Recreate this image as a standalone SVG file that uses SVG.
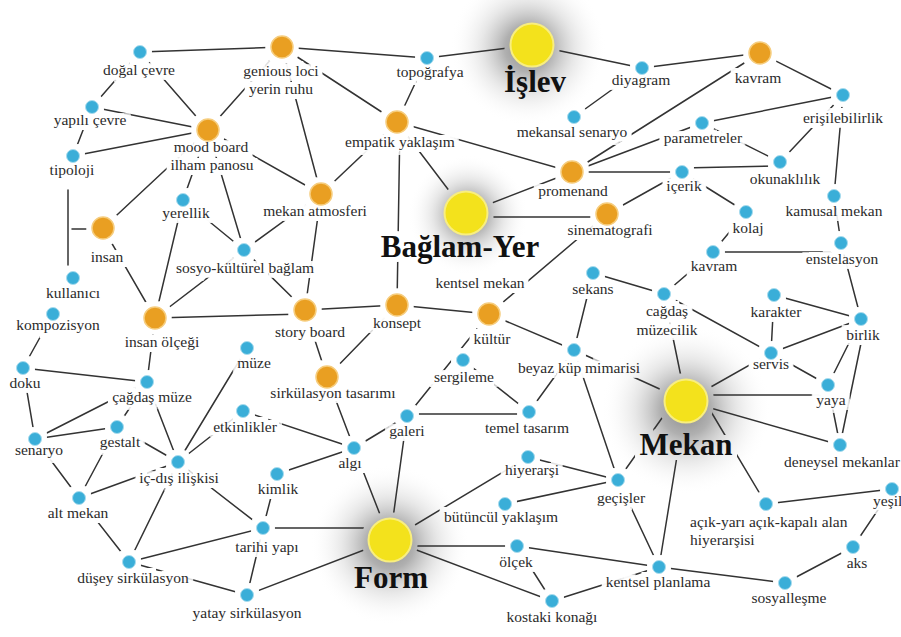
<svg xmlns="http://www.w3.org/2000/svg" width="901" height="637" viewBox="0 0 901 637">
<style>
.e{stroke:#333;stroke-width:1.5;fill:none;stroke-linecap:round}
.b{fill:#3aaed8;stroke:#a8dcee;stroke-width:1}
.o{fill:#e99f22;stroke:#f6cd7e;stroke-width:1.5}
.y{fill:#f3e21c;stroke:#f8ee80;stroke-width:2}
.l{font-family:Liberation Serif,Times New Roman,Times,serif;font-size:15.5px;fill:#2b2b2b;text-anchor:middle}
.s{text-anchor:start}
.big{font-family:Liberation Serif,Times New Roman,Times,serif;font-size:31px;font-weight:bold;fill:#111;text-anchor:middle}
</style>
<defs>
<radialGradient id="glow">
<stop offset="0" stop-color="#7a7a7a" stop-opacity="0.9"/>
<stop offset="0.3" stop-color="#8e8e8e" stop-opacity="0.7"/>
<stop offset="0.6" stop-color="#bdbdbd" stop-opacity="0.35"/>
<stop offset="1" stop-color="#ffffff" stop-opacity="0"/>
</radialGradient>
<filter id="blk" filterUnits="userSpaceOnUse" x="0" y="0" width="901" height="637">
<feMorphology in="SourceAlpha" operator="dilate" radius="5"/>
</filter>
<mask id="gap" maskUnits="userSpaceOnUse" x="0" y="0" width="901" height="637">
<rect width="901" height="637" fill="#fff"/>
<use href="#nodes" filter="url(#blk)"/>
</mask>
</defs>
<rect width="901" height="637" fill="#fff"/>
<g id="glows">
<circle cx="528" cy="48" r="78" fill="url(#glow)"/>
<circle cx="468" cy="215" r="60" fill="url(#glow)"/>
<circle cx="686" cy="410" r="85" fill="url(#glow)"/>
<circle cx="390" cy="545" r="80" fill="url(#glow)"/>
</g>
<g id="connectors" class="e" mask="url(#gap)">
<line x1="140" y1="52" x2="282" y2="47"/>
<line x1="140" y1="52" x2="92" y2="107"/>
<line x1="140" y1="52" x2="208" y2="130"/>
<line x1="282" y1="47" x2="208" y2="130"/>
<line x1="282" y1="47" x2="427" y2="58"/>
<line x1="282" y1="47" x2="397" y2="122"/>
<line x1="282" y1="47" x2="321" y2="194"/>
<line x1="92" y1="107" x2="208" y2="130"/>
<line x1="92" y1="107" x2="73" y2="156"/>
<line x1="73" y1="156" x2="208" y2="130"/>
<line x1="68" y1="190" x2="68" y2="265"/>
<line x1="72" y1="229" x2="90" y2="229"/>
<line x1="208" y1="130" x2="103" y2="228"/>
<line x1="208" y1="130" x2="183" y2="200"/>
<line x1="208" y1="130" x2="321" y2="194"/>
<line x1="208" y1="130" x2="244" y2="250"/>
<line x1="427" y1="58" x2="532" y2="45"/>
<line x1="427" y1="58" x2="397" y2="122"/>
<line x1="532" y1="45" x2="642" y2="68"/>
<line x1="642" y1="68" x2="574" y2="117"/>
<line x1="642" y1="68" x2="760" y2="53"/>
<line x1="760" y1="53" x2="843" y2="95"/>
<line x1="760" y1="53" x2="572" y2="172"/>
<line x1="843" y1="95" x2="702" y2="123"/>
<line x1="843" y1="95" x2="780" y2="162"/>
<line x1="843" y1="95" x2="834" y2="196"/>
<line x1="702" y1="123" x2="572" y2="172"/>
<line x1="702" y1="123" x2="780" y2="162"/>
<line x1="780" y1="166" x2="682" y2="168"/>
<line x1="572" y1="172" x2="682" y2="172"/>
<line x1="682" y1="172" x2="607" y2="214"/>
<line x1="682" y1="172" x2="746" y2="212"/>
<line x1="397" y1="122" x2="572" y2="172"/>
<line x1="397" y1="122" x2="321" y2="194"/>
<line x1="397" y1="122" x2="466" y2="213"/>
<line x1="400" y1="122" x2="397" y2="305"/>
<line x1="466" y1="213" x2="572" y2="172"/>
<line x1="466" y1="217" x2="607" y2="217"/>
<line x1="321" y1="194" x2="244" y2="250"/>
<line x1="321" y1="194" x2="305" y2="310"/>
<line x1="183" y1="200" x2="244" y2="250"/>
<line x1="183" y1="200" x2="155" y2="318"/>
<line x1="103" y1="228" x2="155" y2="318"/>
<line x1="244" y1="250" x2="155" y2="318"/>
<line x1="244" y1="250" x2="305" y2="310"/>
<line x1="155" y1="318" x2="305" y2="314"/>
<line x1="155" y1="318" x2="147" y2="382"/>
<line x1="305" y1="310" x2="397" y2="305"/>
<line x1="305" y1="310" x2="327" y2="377"/>
<line x1="397" y1="305" x2="489" y2="314"/>
<line x1="397" y1="305" x2="327" y2="377"/>
<line x1="489" y1="314" x2="607" y2="214"/>
<line x1="489" y1="314" x2="574" y2="350"/>
<line x1="489" y1="314" x2="407" y2="416"/>
<line x1="53" y1="314" x2="23" y2="368"/>
<line x1="23" y1="368" x2="147" y2="382"/>
<line x1="23" y1="368" x2="35" y2="439"/>
<line x1="147" y1="382" x2="35" y2="439"/>
<line x1="147" y1="382" x2="117" y2="427"/>
<line x1="147" y1="382" x2="178" y2="462"/>
<line x1="35" y1="439" x2="117" y2="427"/>
<line x1="35" y1="439" x2="79" y2="498"/>
<line x1="117" y1="427" x2="178" y2="462"/>
<line x1="117" y1="427" x2="79" y2="498"/>
<line x1="247" y1="348" x2="178" y2="462"/>
<line x1="243" y1="411" x2="178" y2="462"/>
<line x1="243" y1="411" x2="354" y2="448"/>
<line x1="178" y1="462" x2="79" y2="498"/>
<line x1="178" y1="462" x2="129" y2="562"/>
<line x1="178" y1="462" x2="263" y2="528"/>
<line x1="79" y1="498" x2="129" y2="562"/>
<line x1="277" y1="474" x2="354" y2="448"/>
<line x1="277" y1="474" x2="263" y2="528"/>
<line x1="263" y1="528" x2="129" y2="562"/>
<line x1="263" y1="528" x2="247" y2="595"/>
<line x1="263" y1="528" x2="375" y2="528"/>
<line x1="129" y1="562" x2="247" y2="595"/>
<line x1="247" y1="595" x2="390" y2="540"/>
<line x1="327" y1="377" x2="354" y2="448"/>
<line x1="354" y1="448" x2="407" y2="416"/>
<line x1="354" y1="448" x2="390" y2="540"/>
<line x1="407" y1="416" x2="390" y2="540"/>
<line x1="407" y1="414" x2="529" y2="414"/>
<line x1="463" y1="360" x2="529" y2="412"/>
<line x1="529" y1="412" x2="574" y2="350"/>
<line x1="574" y1="350" x2="593" y2="273"/>
<line x1="574" y1="350" x2="686" y2="401"/>
<line x1="574" y1="350" x2="618" y2="480"/>
<line x1="593" y1="273" x2="664" y2="294"/>
<line x1="664" y1="294" x2="713" y2="252"/>
<line x1="664" y1="294" x2="771" y2="353"/>
<line x1="664" y1="294" x2="686" y2="401"/>
<line x1="713" y1="252" x2="746" y2="212"/>
<line x1="713" y1="252" x2="841" y2="252"/>
<line x1="834" y1="196" x2="841" y2="243"/>
<line x1="841" y1="243" x2="861" y2="319"/>
<line x1="774" y1="295" x2="861" y2="319"/>
<line x1="774" y1="295" x2="771" y2="353"/>
<line x1="771" y1="353" x2="861" y2="319"/>
<line x1="771" y1="353" x2="828" y2="385"/>
<line x1="771" y1="353" x2="686" y2="401"/>
<line x1="861" y1="319" x2="828" y2="385"/>
<line x1="866" y1="319" x2="840" y2="445"/>
<line x1="828" y1="385" x2="840" y2="445"/>
<line x1="686" y1="395" x2="828" y2="395"/>
<line x1="686" y1="401" x2="840" y2="445"/>
<line x1="710" y1="410" x2="766" y2="504"/>
<line x1="618" y1="480" x2="662" y2="418"/>
<line x1="686" y1="401" x2="659" y2="567"/>
<line x1="528" y1="457" x2="390" y2="540"/>
<line x1="528" y1="457" x2="618" y2="480"/>
<line x1="505" y1="504" x2="618" y2="480"/>
<line x1="390" y1="546" x2="517" y2="546"/>
<line x1="390" y1="540" x2="552" y2="601"/>
<line x1="517" y1="546" x2="552" y2="601"/>
<line x1="517" y1="546" x2="659" y2="567"/>
<line x1="552" y1="601" x2="659" y2="567"/>
<line x1="618" y1="480" x2="659" y2="567"/>
<line x1="659" y1="567" x2="785" y2="583"/>
<line x1="785" y1="583" x2="853" y2="547"/>
<line x1="853" y1="547" x2="892" y2="489"/>
<line x1="766" y1="504" x2="892" y2="489"/>
</g>
<g id="nodes">
<g id="n-dogal-cevre"><circle class="b" cx="140" cy="52" r="6.5"/><text class="l" x="139" y="75">doğal çevre</text></g>
<g id="n-genious-loci"><circle class="o" cx="282" cy="47" r="11"/><text class="l" x="281" y="76">genious loci</text><text class="l" x="281" y="94">yerin ruhu</text></g>
<g id="n-topografya"><circle class="b" cx="427" cy="58" r="6.5"/><text class="l" x="430" y="77">topoğrafya</text></g>
<g id="n-islev"><circle class="y" cx="532" cy="45" r="21.5"/><text class="big" x="535" y="92">İşlev</text></g>
<g id="n-diyagram"><circle class="b" cx="642" cy="68" r="6.5"/><text class="l" x="641" y="85">diyagram</text></g>
<g id="n-kavram-1"><circle class="o" cx="760" cy="53" r="11"/><text class="l" x="758" y="83">kavram</text></g>
<g id="n-yapili-cevre"><circle class="b" cx="92" cy="107" r="6.5"/><text class="l" x="90" y="125">yapılı çevre</text></g>
<g id="n-mood-board"><circle class="o" cx="208" cy="130" r="11"/><text class="l" x="211" y="152">mood board</text><text class="l" x="212" y="170">ilham panosu</text></g>
<g id="n-empatik"><circle class="o" cx="397" cy="122" r="11"/><text class="l" x="400" y="147">empatik yaklaşım</text></g>
<g id="n-mekansal-senaryo"><circle class="b" cx="574" cy="117" r="6.5"/><text class="l" x="572" y="137">mekansal senaryo</text></g>
<g id="n-erisilebilirlik"><circle class="b" cx="843" cy="95" r="6.5"/><text class="l" x="843" y="123">erişilebilirlik</text></g>
<g id="n-parametreler"><circle class="b" cx="702" cy="123" r="6.5"/><text class="l" x="703" y="143">parametreler</text></g>
<g id="n-tipoloji"><circle class="b" cx="73" cy="156" r="6.5"/><text class="l" x="72" y="175">tipoloji</text></g>
<g id="n-okunaklilik"><circle class="b" cx="780" cy="162" r="6.5"/><text class="l" x="785" y="184">okunaklılık</text></g>
<g id="n-icerik"><circle class="b" cx="682" cy="172" r="6.5"/><text class="l" x="684" y="191">içerik</text></g>
<g id="n-promenand"><circle class="o" cx="572" cy="172" r="11"/><text class="l" x="573" y="196">promenand</text></g>
<g id="n-yerellik"><circle class="b" cx="183" cy="200" r="6.5"/><text class="l" x="186" y="218">yerellik</text></g>
<g id="n-mekan-atmosferi"><circle class="o" cx="321" cy="194" r="11"/><text class="l" x="315" y="216">mekan atmosferi</text></g>
<g id="n-baglam-yer"><circle class="y" cx="466" cy="213" r="21.5"/><text class="big" x="460" y="257">Bağlam-Yer</text></g>
<g id="n-sinematografi"><circle class="o" cx="607" cy="214" r="11"/><text class="l" x="610" y="235">sinematografi</text></g>
<g id="n-kamusal-mekan"><circle class="b" cx="834" cy="196" r="6.5"/><text class="l" x="834" y="216">kamusal mekan</text></g>
<g id="n-kolaj"><circle class="b" cx="746" cy="212" r="6.5"/><text class="l" x="748" y="233">kolaj</text></g>
<g id="n-insan"><circle class="o" cx="103" cy="228" r="11"/><text class="l" x="107" y="262">insan</text></g>
<g id="n-sosyo"><circle class="b" cx="244" cy="250" r="6.5"/><text class="l" x="245" y="273">sosyo-kültürel bağlam</text></g>
<g id="n-kavram-2"><circle class="b" cx="713" cy="252" r="6.5"/><text class="l" x="714" y="271">kavram</text></g>
<g id="n-enstelasyon"><circle class="b" cx="841" cy="243" r="6.5"/><text class="l" x="842" y="264">enstelasyon</text></g>
<g id="n-kullanici"><circle class="b" cx="73" cy="278" r="6.5"/><text class="l" x="73" y="298">kullanıcı</text></g>
<g id="n-sekans"><circle class="b" cx="593" cy="273" r="6.5"/><text class="l" x="593" y="294">sekans</text></g>
<g id="n-cagdas-muzecilik"><circle class="b" cx="664" cy="294" r="6.5"/><text class="l" x="667" y="316">cağdaş</text><text class="l" x="667" y="335">müzecilik</text></g>
<g id="n-karakter"><circle class="b" cx="774" cy="295" r="6.5"/><text class="l" x="776" y="317">karakter</text></g>
<g id="n-story-board"><circle class="o" cx="305" cy="310" r="11"/><text class="l" x="310" y="337">story board</text></g>
<g id="n-konsept"><circle class="o" cx="397" cy="305" r="11"/><text class="l" x="397" y="328">konsept</text></g>
<g id="n-kultur"><circle class="o" cx="489" cy="314" r="11"/><text class="l" x="480" y="288">kentsel mekan</text><text class="l" x="492" y="344">kültür</text></g>
<g id="n-kompozisyon"><circle class="b" cx="53" cy="314" r="6.5"/><text class="l" x="58" y="330">kompozisyon</text></g>
<g id="n-insan-olcegi"><circle class="o" cx="155" cy="318" r="11"/><text class="l" x="162" y="347">insan ölçeği</text></g>
<g id="n-birlik"><circle class="b" cx="861" cy="319" r="6.5"/><text class="l" x="863" y="340">birlik</text></g>
<g id="n-muze"><circle class="b" cx="247" cy="348" r="6.5"/><text class="l" x="254" y="368">müze</text></g>
<g id="n-beyaz-kup"><circle class="b" cx="574" cy="350" r="6.5"/><text class="l" x="579" y="373">beyaz küp mimarisi</text></g>
<g id="n-servis"><circle class="b" cx="771" cy="353" r="6.5"/><text class="l" x="771" y="369">servis</text></g>
<g id="n-sergileme"><circle class="b" cx="463" cy="360" r="6.5"/><text class="l" x="464" y="382">sergileme</text></g>
<g id="n-doku"><circle class="b" cx="23" cy="368" r="6.5"/><text class="l" x="25" y="388">doku</text></g>
<g id="n-sirkulasyon-tasarimi"><circle class="o" cx="327" cy="377" r="11"/><text class="l" x="333" y="398">sirkülasyon tasarımı</text></g>
<g id="n-cagdas-muze"><circle class="b" cx="147" cy="382" r="6.5"/><text class="l" x="152" y="402">çağdaş müze</text></g>
<g id="n-yaya"><circle class="b" cx="828" cy="385" r="6.5"/><text class="l" x="831" y="405">yaya</text></g>
<g id="n-mekan"><circle class="y" cx="686" cy="401" r="21.5"/><text class="big" x="686" y="455">Mekan</text></g>
<g id="n-etkinlikler"><circle class="b" cx="243" cy="411" r="6.5"/><text class="l" x="245" y="432">etkinlikler</text></g>
<g id="n-temel-tasarim"><circle class="b" cx="529" cy="412" r="6.5"/><text class="l" x="527" y="433">temel tasarım</text></g>
<g id="n-galeri"><circle class="b" cx="407" cy="416" r="6.5"/><text class="l" x="407" y="436">galeri</text></g>
<g id="n-gestalt"><circle class="b" cx="117" cy="427" r="6.5"/><text class="l" x="120" y="447">gestalt</text></g>
<g id="n-senaryo"><circle class="b" cx="35" cy="439" r="6.5"/><text class="l" x="39" y="455">senaryo</text></g>
<g id="n-deneysel"><circle class="b" cx="840" cy="445" r="6.5"/><text class="l" x="842" y="467">deneysel mekanlar</text></g>
<g id="n-algi"><circle class="b" cx="354" cy="448" r="6.5"/><text class="l" x="350" y="468">algı</text></g>
<g id="n-hiyerarsi"><circle class="b" cx="528" cy="457" r="6.5"/><text class="l" x="532" y="475">hiyerarşi</text></g>
<g id="n-ic-dis"><circle class="b" cx="178" cy="462" r="6.5"/><text class="l" x="179" y="483">iç-dış ilişkisi</text></g>
<g id="n-kimlik"><circle class="b" cx="277" cy="474" r="6.5"/><text class="l" x="278" y="494">kimlik</text></g>
<g id="n-gecisler"><circle class="b" cx="618" cy="480" r="6.5"/><text class="l" x="621" y="503">geçişler</text></g>
<g id="n-yesil"><circle class="b" cx="892" cy="489" r="6.5"/><text class="l s" x="873" y="506">yeşil</text></g>
<g id="n-alt-mekan"><circle class="b" cx="79" cy="498" r="6.5"/><text class="l" x="78" y="518">alt mekan</text></g>
<g id="n-acik"><circle class="b" cx="766" cy="504" r="6.5"/><text class="l s" x="690" y="527">açık-yarı açık-kapalı alan</text><text class="l s" x="690" y="545">hiyerarşisi</text></g>
<g id="n-butuncul"><circle class="b" cx="505" cy="504" r="6.5"/><text class="l" x="501" y="522">bütüncül yaklaşım</text></g>
<g id="n-tarihi-yapi"><circle class="b" cx="263" cy="528" r="6.5"/><text class="l" x="267" y="552">tarihi yapı</text></g>
<g id="n-form"><circle class="y" cx="390" cy="540" r="21.5"/><text class="big" x="391" y="588">Form</text></g>
<g id="n-olcek"><circle class="b" cx="517" cy="546" r="6.5"/><text class="l" x="516" y="567">ölçek</text></g>
<g id="n-aks"><circle class="b" cx="853" cy="547" r="6.5"/><text class="l" x="857" y="568">aks</text></g>
<g id="n-dusey"><circle class="b" cx="129" cy="562" r="6.5"/><text class="l" x="133" y="583">düşey sirkülasyon</text></g>
<g id="n-kentsel-planlama"><circle class="b" cx="659" cy="567" r="6.5"/><text class="l" x="658" y="587">kentsel planlama</text></g>
<g id="n-sosyallesme"><circle class="b" cx="785" cy="583" r="6.5"/><text class="l" x="789" y="603">sosyalleşme</text></g>
<g id="n-yatay"><circle class="b" cx="247" cy="595" r="6.5"/><text class="l" x="247" y="618">yatay sirkülasyon</text></g>
<g id="n-kostaki"><circle class="b" cx="552" cy="601" r="6.5"/><text class="l" x="552" y="622">kostaki konağı</text></g>
</g>
</svg>
